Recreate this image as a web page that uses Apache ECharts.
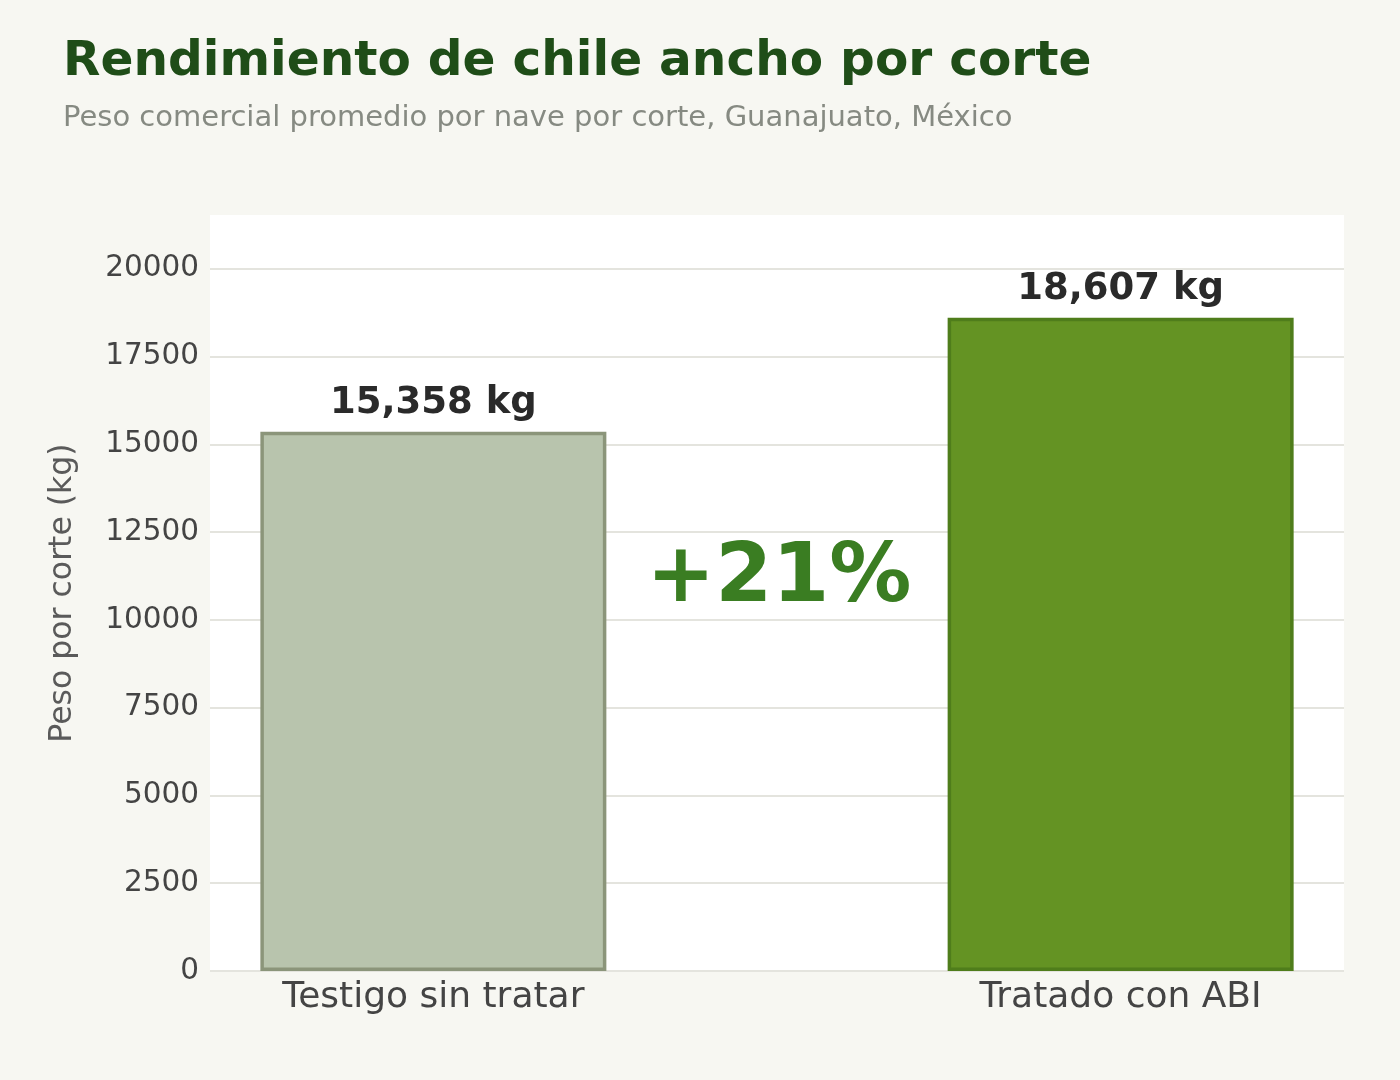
<!DOCTYPE html>
<html>
<head>
<meta charset="utf-8">
<script src="https://cdn.jsdelivr.net/npm/echarts@6/dist/echarts.min.js"></script>
<style>
    html, body { margin: 0; padding: 0; background: #f7f7f2; }
    #chart { width: 1400px; height: 1080px; }
</style>
</head>
<body>
<div id="chart"></div>
<script>
// Datos del grafico
const categorias = ['Testigo sin tratar', 'Tratado con ABI'];
const pesos = [15358, 18607];
const posiciones = [0, 1];
const rellenos = ['#b8c4ad', '#649323'];
const bordes = ['#8b957a', '#4f7d1b'];

let rendimientoChart;

/**
 * Grafico "Rendimiento de chile ancho por corte"
 */
const RENDIMIENTO = function () {

    const fuente = 'DejaVu Sans';

    const build = function () {
        rendimientoChart = echarts.init(document.getElementById('chart'));

        // lineas de la rejilla, la ultima (max del eje) no se dibuja
        const coloresRejilla = [];
        for (let i = 0; i < 9; i++) coloresRejilla.push('#e4e4de');
        coloresRejilla.push('rgba(0,0,0,0)');

        const option = {
            backgroundColor: '#f7f7f2',
            animation: false,
            title: {
                text: 'Rendimiento de chile ancho por corte',
                subtext: 'Peso comercial promedio por nave por corte, Guanajuato, México',
                left: 58,
                top: 33,
                itemGap: 17,
                textStyle: {
                    fontFamily: fuente,
                    fontWeight: 'bold',
                    fontSize: 48.6,
                    color: '#1f4d18'
                },
                subtextStyle: {
                    fontFamily: fuente,
                    fontSize: 29,
                    color: '#868a82'
                }
            },
            grid: {
                left: 210,
                right: 56,
                top: 215,
                bottom: 109,
                show: true,
                backgroundColor: '#ffffff',
                borderWidth: 0
            },
            xAxis: {
                type: 'value',
                min: -0.325,
                max: 1.325,
                axisLine: { show: false },
                axisTick: { show: false },
                splitLine: { show: false },
                axisLabel: {
                    customValues: posiciones,
                    formatter: function (v) {
                        return categorias[Math.round(v)];
                    },
                    margin: 9,
                    fontFamily: fuente,
                    fontSize: 36,
                    color: '#444444'
                }
            },
            yAxis: {
                type: 'value',
                min: 0,
                max: 21530,
                interval: 2500,
                name: 'Peso por corte (kg)',
                nameLocation: 'middle',
                nameGap: 131,
                nameTextStyle: {
                    fontFamily: fuente,
                    fontSize: 31.5,
                    color: '#5a5a5a'
                },
                axisLine: { show: false },
                axisTick: { show: false },
                axisLabel: {
                    showMaxLabel: false,
                    formatter: function (v) {
                        return String(v);
                    },
                    margin: 11,
                    padding: [3, 0, 0, 0],
                    fontFamily: fuente,
                    fontSize: 29.5,
                    color: '#444444'
                },
                splitLine: {
                    lineStyle: { color: coloresRejilla, width: 2 }
                }
            },
            series: [
                {
                    type: 'bar',
                    barWidth: 346,
                    data: pesos.map(function (p, i) {
                        return {
                            value: [posiciones[i], p],
                            itemStyle: {
                                color: rellenos[i],
                                borderColor: bordes[i],
                                borderWidth: 3.5
                            }
                        };
                    }),
                    label: {
                        show: true,
                        position: 'top',
                        distance: 10,
                        formatter: function (params) {
                            return params.value[1].toLocaleString('en-US') + ' kg';
                        },
                        fontFamily: fuente,
                        fontWeight: 'bold',
                        fontSize: 37,
                        color: '#2a2a2a'
                    }
                }
            ]
        };

        rendimientoChart.setOption(option);

        // texto del incremento entre las dos barras
        const incremento = Math.round((pesos[1] / pesos[0] - 1) * 100);
        const punto = rendimientoChart.convertToPixel({ gridIndex: 0 }, [0.5, 11150]);
        rendimientoChart.setOption({
            graphic: [{
                type: 'text',
                x: punto[0] + 2,
                y: punto[1],
                style: {
                    text: '+' + incremento + '%',
                    fontFamily: fuente,
                    fontWeight: 'bold',
                    fontSize: 82,
                    fill: '#3a7d22',
                    textAlign: 'center',
                    textVerticalAlign: 'middle'
                }
            }]
        });
    };

    return {
        init: build
    };
}();

RENDIMIENTO.init();
</script>
</body>
</html>
